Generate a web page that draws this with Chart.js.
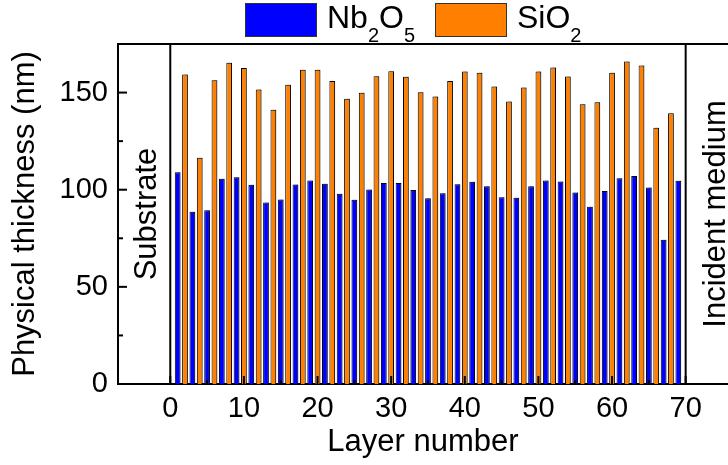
<!DOCTYPE html>
<html>
<head>
<meta charset="utf-8">
<script src="https://cdn.jsdelivr.net/npm/chart.js@4/dist/chart.umd.min.js"></script>
<style>
  html, body { margin: 0; padding: 0; background: #fff; }
  #wrap { width: 728px; height: 465px; }
</style>
</head>
<body>
<div id="wrap"><canvas id="c" width="728" height="465"></canvas></div>
<script>
// Layer stack: odd layers are Nb2O5, even layers are SiO2 (thickness in nm)
const nbLayers = [1, 3, 5, 7, 9, 11, 13, 15, 17, 19, 21, 23, 25, 27, 29, 31, 33, 35,
                  37, 39, 41, 43, 45, 47, 49, 51, 53, 55, 57, 59, 61, 63, 65, 67, 69];
const nbThickness = [109.0, 88.6, 89.4, 105.6, 106.4, 102.5, 93.4, 95.0, 102.7, 104.7,
                     103.1, 97.9, 94.8, 100.1, 103.5, 103.5, 99.9, 95.6, 98.2, 102.8,
                     104.1, 101.8, 96.1, 95.8, 101.8, 104.7, 104.2, 98.6, 91.2, 99.4,
                     105.9, 107.1, 101.1, 74.2, 104.6];
const sioLayers = [2, 4, 6, 8, 10, 12, 14, 16, 18, 20, 22, 24, 26, 28, 30, 32, 34,
                   36, 38, 40, 42, 44, 46, 48, 50, 52, 54, 56, 58, 60, 62, 64, 66, 68];
const sioThickness = [159.3, 116.4, 156.4, 165.3, 162.7, 151.6, 141.1, 154.0, 161.7, 161.7,
                      156.0, 146.8, 149.9, 158.4, 161.0, 158.1, 150.2, 148.0, 156.0, 160.8,
                      160.2, 153.1, 145.4, 152.6, 160.8, 162.9, 158.3, 144.0, 145.0, 160.2,
                      166.0, 163.9, 131.9, 139.4];

const xTicks = [0, 10, 20, 30, 40, 50, 60, 70];
const xMinorTicks = [5, 15, 25, 35, 45, 55, 65];
const yTicks = [0, 50, 100, 150];
const yMinorTicks = [25, 75, 125];

// Stack boundaries: substrate side and incident-medium side
const boundaryLayers = [0, 70];
const boundaryNames = ['Substrate', 'Incident medium'];

const FONT = "'Liberation Sans', Arial, Helvetica, sans-serif";
const BLUE = '#0000ff';
const ORANGE = '#ff8000';

// Soft drop shadow under the bars
const barShadow = {
  id: 'barShadow',
  beforeDatasetsDraw(chart) {
    const ctx = chart.ctx;
    ctx.save();
    ctx.shadowColor = 'rgba(0,0,0,0.25)';
    ctx.shadowOffsetX = 2;
    ctx.shadowOffsetY = -1;
    ctx.shadowBlur = 0;
  },
  afterDatasetsDraw(chart) {
    chart.ctx.restore();
  }
};

// Frame, boundary lines, inward ticks and boundary captions
const frame = {
  id: 'frame',
  afterDatasetsDraw(chart) {
    const { ctx, chartArea: a, scales: { x, y } } = chart;
    ctx.save();
    ctx.strokeStyle = '#000';
    ctx.lineCap = 'butt';
    const seg = (x1, y1, x2, y2, w) => {
      ctx.lineWidth = w;
      ctx.beginPath(); ctx.moveTo(x1, y1); ctx.lineTo(x2, y2); ctx.stroke();
    };
    seg(a.left, a.top, a.right, a.top, 2);
    boundaryLayers.forEach(v => {
      const px = x.getPixelForValue(v);
      seg(px, a.top, px, a.bottom, 2);
    });
    yTicks.forEach(v => { const py = y.getPixelForValue(v); seg(a.left, py, a.left + 9, py, 2); });
    yMinorTicks.forEach(v => { const py = y.getPixelForValue(v); seg(a.left, py, a.left + 5, py, 2); });
    xTicks.forEach(v => { const px = x.getPixelForValue(v); seg(px, a.bottom, px, a.bottom - 8, 2); });
    xMinorTicks.forEach(v => { const px = x.getPixelForValue(v); seg(px, a.bottom, px, a.bottom - 4, 2); });

    ctx.fillStyle = '#000';
    ctx.font = '31px ' + FONT;
    ctx.textAlign = 'center';
    ctx.textBaseline = 'alphabetic';
    const cy = (a.top + a.bottom) / 2;
    const offsets = [-14.5, 39];
    boundaryLayers.forEach((v, i) => {
      const px = x.getPixelForValue(v) + offsets[i];
      ctx.save();
      ctx.translate(px, cy);
      ctx.rotate(-Math.PI / 2);
      ctx.fillText(boundaryNames[i], 0, 0);
      ctx.restore();
    });
    ctx.restore();
  }
};

// Legend with chemical-formula subscripts
function drawFormula(ctx, text, x, baseline) {
  let cx = x;
  for (const part of text.match(/[A-Za-z]+|\d+/g)) {
    if (/\d/.test(part)) {
      ctx.font = '20px ' + FONT;
      ctx.fillText(part, cx, baseline + 14);
    } else {
      ctx.font = '32px ' + FONT;
      ctx.fillText(part, cx, baseline);
    }
    cx += ctx.measureText(part).width;
  }
}
const formulaLegend = {
  id: 'formulaLegend',
  afterDraw(chart) {
    const ctx = chart.ctx;
    const boxes = [245, 435];
    ctx.save();
    chart.data.datasets.forEach((ds, i) => {
      const bx = boxes[i];
      ctx.fillStyle = ds.backgroundColor;
      ctx.fillRect(bx, 3, 72, 34);
      ctx.strokeStyle = '#333';
      ctx.lineWidth = 1;
      ctx.strokeRect(bx + 0.5, 3.5, 71, 33);
      ctx.fillStyle = '#000';
      ctx.textAlign = 'left';
      ctx.textBaseline = 'alphabetic';
      drawFormula(ctx, ds.label, bx + 82, 28);
    });
    ctx.restore();
  }
};

new Chart(document.getElementById('c'), {
  type: 'bar',
  data: {
    datasets: [
      {
        label: 'Nb2O5',
        data: nbLayers.map((l, i) => ({ x: l, y: nbThickness[i] })),
        backgroundColor: BLUE,
        borderColor: '#000',
        borderWidth: 1,
        grouped: false,
        barPercentage: 0.78,
        categoryPercentage: 1
      },
      {
        label: 'SiO2',
        data: sioLayers.map((l, i) => ({ x: l, y: sioThickness[i] })),
        backgroundColor: ORANGE,
        borderColor: '#000',
        borderWidth: 1,
        grouped: false,
        barPercentage: 0.78,
        categoryPercentage: 1
      }
    ]
  },
  options: {
    responsive: false,
    animation: false,
    events: [],
    layout: { padding: { top: 44, right: 0, left: 0, bottom: 0 } },
    plugins: { legend: { display: false }, tooltip: { enabled: false } },
    scales: {
      x: {
        type: 'linear',
        offset: false,
        min: -7.1,
        max: 75.75,
        afterBuildTicks: s => { s.ticks = xTicks.map(v => ({ value: v })); },
        afterFit: s => { s.height = 81; },
        grid: { display: false, drawTicks: false, offset: false },
        border: { display: true, color: '#000', width: 2 },
        ticks: { color: '#000', font: { family: FONT, size: 29 }, padding: 8, maxRotation: 0, autoSkip: false },
        title: { display: true, text: 'Layer number', color: '#000',
                 font: { family: FONT, size: 31 }, padding: { top: 0, bottom: 4 } }
      },
      y: {
        min: 0,
        max: 175,
        afterBuildTicks: s => { s.ticks = yTicks.map(v => ({ value: v })); },
        afterFit: s => { s.width = 118; },
        grid: { display: false, drawTicks: false },
        border: { display: true, color: '#000', width: 2 },
        ticks: { color: '#000', font: { family: FONT, size: 29 }, padding: 10 },
        title: { display: true, text: 'Physical thickness (nm)', color: '#000',
                 font: { family: FONT, size: 31 }, padding: { top: 7, bottom: 0 } }
      }
    }
  },
  plugins: [barShadow, frame, formulaLegend]
});
</script>
</body>
</html>
